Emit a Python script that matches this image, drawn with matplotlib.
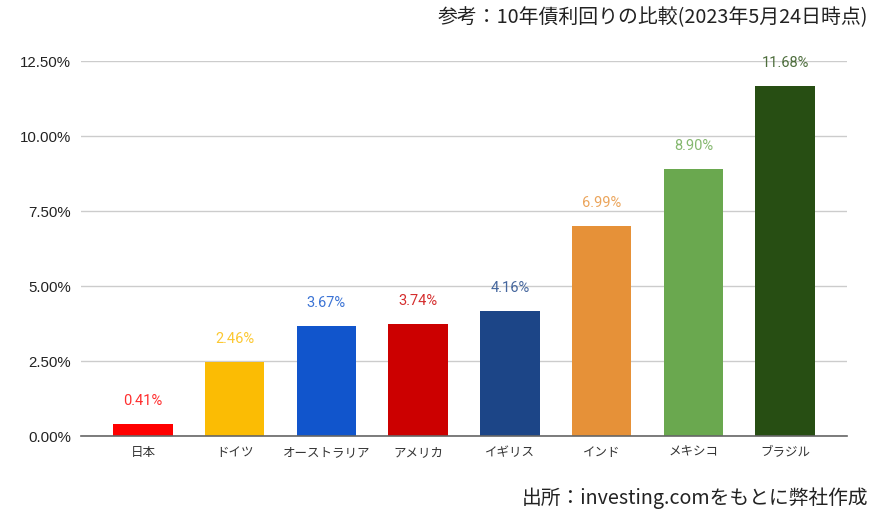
import matplotlib.pyplot as plt
from matplotlib.colors import to_rgb
from matplotlib.ticker import FuncFormatter

plt.rcParams['font.family'] = ['Noto Sans CJK JP', 'DejaVu Sans']

countries = ['日本', 'ドイツ', 'オーストラリア', 'アメリカ', 'イギリス', 'インド', 'メキシコ', 'ブラジル']
yields = [0.41, 2.46, 3.67, 3.74, 4.16, 6.99, 8.90, 11.68]
colors = ['#ff0000', '#fbbc04', '#1155cc', '#cc0000', '#1c4587', '#e69138', '#6aa84f', '#274e13']
yticks = [0, 2.5, 5, 7.5, 10, 12.5]

title = '参考：10年債利回りの比較(2023年5月24日時点)'
source = '出所：investing.comをもとに弊社作成'


def lighten(c, amt=0.18):
    r, g, b = to_rgb(c)
    return (r + (1 - r) * amt, g + (1 - g) * amt, b + (1 - b) * amt)


fig = plt.figure(figsize=(8.7, 5.14), dpi=100)
ax = fig.add_axes([0.0931, 0.1514, 0.8805, 0.7299])

x = range(len(countries))
ax.bar(x, yields, width=0.65, color=colors, zorder=3)

# value labels above each bar
for xi, v, c in zip(x, yields, colors):
    ax.annotate(f'{v:.2f}%', (xi, v), xytext=(0, 11.5), textcoords='offset points',
                ha='center', va='bottom', color=lighten(c), fontsize=10.5, family='Roboto')

ax.set_xlim(-0.675, 7.675)
ax.set_ylim(0, 12.5)
ax.set_yticks(yticks)
ax.yaxis.set_major_formatter(FuncFormatter(lambda v, p: f'{v:.2f}%'))
ax.set_xticks(list(x))
ax.set_xticklabels(countries, fontsize=9, color='#333333')

for lbl in ax.get_yticklabels():
    lbl.set_family('Liberation Sans')
    lbl.set_fontsize(10.8)
    lbl.set_color('#222222')

ax.grid(axis='y', color='#cccccc', linewidth=1, zorder=0)
ax.tick_params(axis='y', length=0, pad=7)
ax.tick_params(axis='x', length=0, pad=7)
for s in ['top', 'right', 'left']:
    ax.spines[s].set_visible(False)
ax.spines['bottom'].set_color('#666666')
ax.spines['bottom'].set_linewidth(1.2)
ax.spines['bottom'].set_zorder(4)

fig.text(0.998, 0.965, title, ha='right', va='center', fontsize=14.3, color='#222222')
fig.text(0.998, 0.031, source, ha='right', va='center', fontsize=14.2, color='#222222')

fig.savefig('out.png', dpi=100)
